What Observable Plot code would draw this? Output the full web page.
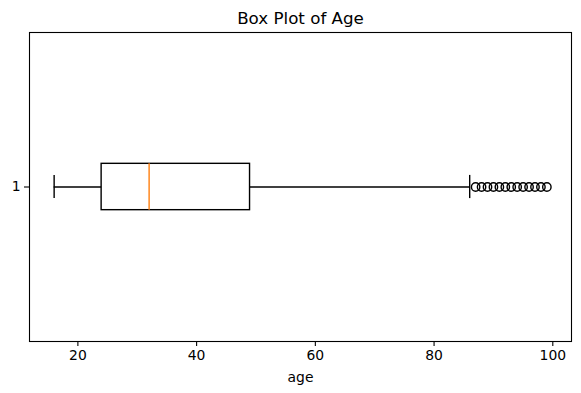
<!DOCTYPE html>
<html>
<head>
<meta charset="utf-8">
<script src="https://cdn.jsdelivr.net/npm/d3@7"></script>
<script src="https://cdn.jsdelivr.net/npm/@observablehq/plot@0.6"></script>
<style>
  body { margin: 0; background: #fff; }
  svg { font-family: "DejaVu Sans", sans-serif; }
</style>
</head>
<body>
<div id="chart"></div>
<script>
// Summary values
const category = ["1"];
const boxStats = [{cat: 1, whiskerLow: 16, q1: 24, median: 32, q3: 49, whiskerHigh: 86}];
const outliers = [87, 88, 89, 90, 91, 92, 93, 94, 95, 96, 97, 98, 99];
const xTicks = [20, 40, 60, 80, 100];
const titleText = "Box Plot of Age";
const xLabel = "age";

const halfBox = 0.075;
const halfCap = 0.0375;
const outlierData = outliers.map(v => ({cat: 1, v}));

const chart = Plot.plot({
  width: 581,
  height: 393,
  marginLeft: 29,
  marginRight: 10,
  marginTop: 32,
  marginBottom: 52,
  style: {fontFamily: "DejaVu Sans, sans-serif", fontSize: "13.9px", color: "#000", background: "#fff"},
  x: {domain: [11.85, 103.15], ticks: xTicks, label: null},
  y: {domain: [0.5, 1.5], ticks: [1], tickFormat: (d, i) => category[i], label: null},
  marks: [
    Plot.axisX({ticks: xTicks, tickSize: 5, tickPadding: 4, fontSize: 13.9, strokeWidth: 1.1, label: null}),
    Plot.axisY({ticks: [1], tickFormat: () => category[0], tickSize: 5, tickPadding: 4, fontSize: 13.9, strokeWidth: 1.1, label: null}),
    // whiskers
    Plot.ruleY(boxStats, {y: "cat", x1: "whiskerLow", x2: "q1", stroke: "black", strokeWidth: 1.4}),
    Plot.ruleY(boxStats, {y: "cat", x1: "q3", x2: "whiskerHigh", stroke: "black", strokeWidth: 1.4}),
    // caps
    Plot.ruleX(boxStats, {x: "whiskerLow", y1: d => d.cat - halfCap, y2: d => d.cat + halfCap, stroke: "black", strokeWidth: 1.4}),
    Plot.ruleX(boxStats, {x: "whiskerHigh", y1: d => d.cat - halfCap, y2: d => d.cat + halfCap, stroke: "black", strokeWidth: 1.4}),
    // box
    Plot.rect(boxStats, {x1: "q1", x2: "q3", y1: d => d.cat - halfBox, y2: d => d.cat + halfBox, fill: "none", stroke: "black", strokeWidth: 1.4}),
    // median
    Plot.ruleX(boxStats, {x: "median", y1: d => d.cat - halfBox, y2: d => d.cat + halfBox, stroke: "#ff7f0e", strokeWidth: 1.4}),
    // outliers
    Plot.dot(outlierData, {x: "v", y: "cat", r: 4.2, stroke: "black", fill: "none", strokeWidth: 1.4}),
    Plot.frame({stroke: "black", strokeWidth: 1.1}),
    Plot.text([titleText], {frameAnchor: "top", dy: -14, fontSize: 16.7, fill: "black", lineAnchor: "middle"}),
    Plot.text([xLabel], {frameAnchor: "bottom", dy: 36, fontSize: 13.9, fill: "black", lineAnchor: "middle"})
  ]
});
document.getElementById("chart").appendChild(chart);
</script>
</body>
</html>
